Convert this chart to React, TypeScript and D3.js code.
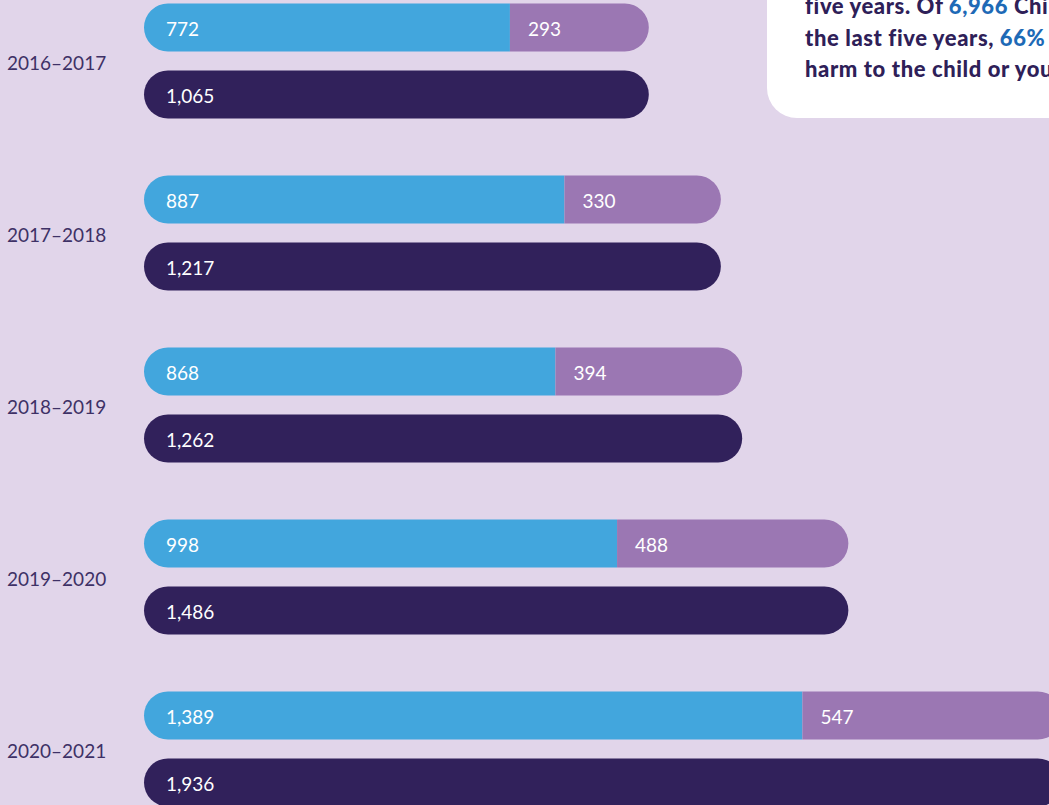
import React, { useEffect, useRef } from 'react';
import * as d3 from 'd3';

const years = ['2016–2017', '2017–2018', '2018–2019', '2019–2020', '2020–2021'];
const firstPart = [772, 887, 868, 998, 1389];
const secondPart = [293, 330, 394, 488, 547];
const totals = [1065, 1217, 1262, 1486, 1936];

const noteLines = [
  [{ t: 'five years. Of ', hi: false }, { t: '6,966', hi: true }, { t: ' Child Protection Orders made in', hi: false }],
  [{ t: 'the last five years, ', hi: false }, { t: '66%', hi: true }, { t: ' were for significant', hi: false }],
  [{ t: 'harm to the child or young person.', hi: false }],
];

const colors = {
  bg: '#e1d5ea',
  blue: '#42a6dd',
  purple: '#9b77b3',
  dark: '#31215b',
  label: '#3e3166',
  noteText: '#2e2058',
  noteNum: '#1e6ab6',
};

const W = 1049;
const H = 805;
const font = 'Lato, "Open Sans", sans-serif';

// pill shaped bar: rounded left and/or right end
function pill(x0: number, x1: number, y: number, h: number, left: boolean, right: boolean) {
  const r = h / 2;
  const p = d3.path();
  p.moveTo(x0 + (left ? r : 0), y);
  p.lineTo(x1 - (right ? r : 0), y);
  if (right) p.arc(x1 - r, y + r, r, -Math.PI / 2, Math.PI / 2);
  else { p.lineTo(x1, y + h); }
  p.lineTo(x0 + (left ? r : 0), y + h);
  if (left) p.arc(x0 + r, y + r, r, Math.PI / 2, Math.PI * 1.5);
  else p.lineTo(x0, y);
  p.closePath();
  return p.toString();
}

export default function App() {
  const ref = useRef<SVGSVGElement>(null);

  useEffect(() => {
    const svg = d3.select(ref.current);
    svg.selectAll('*').remove();

    svg.append('rect').attr('width', W).attr('height', H).attr('fill', colors.bg);

    const x = d3.scaleLinear().domain([0, 2000]).range([144, 144 + 948]);
    const y = d3.scaleBand().domain(years).range([3.5, 3.5 + 172 * years.length]).paddingInner(0);
    const barH = 48;
    const gap = 67;

    // note box, top right
    svg.append('rect')
      .attr('x', 767).attr('y', -60).attr('width', 400).attr('height', 178)
      .attr('rx', 30).attr('fill', '#ffffff');

    const note = svg.append('g');
    noteLines.forEach((line, i) => {
      const t = note.append('text')
        .attr('x', 805).attr('y', 14 + i * 31.5)
        .attr('font-family', font).attr('font-weight', 900).attr('font-size', 22)
        .attr('letter-spacing', 0.6)
        .attr('fill', colors.noteText);
      line.forEach((s) => {
        t.append('tspan').attr('fill', s.hi ? colors.noteNum : colors.noteText).text(s.t);
      });
    });

    const fmt = d3.format(',');
    const g = svg.append('g');
    years.forEach((yr, i) => {
      const y0 = y(yr) as number;
      const a = firstPart[i];
      const b = secondPart[i];
      const tot = totals[i];

      g.append('text')
        .attr('x', 7).attr('y', y0 + 66)
        .attr('font-family', font).attr('font-size', 19)
        .attr('fill', colors.label).text(yr);

      g.append('path').attr('d', pill(x(0), x(a), y0, barH, true, false)).attr('fill', colors.blue);
      g.append('path').attr('d', pill(x(a), x(a + b), y0, barH, false, true)).attr('fill', colors.purple);
      g.append('path').attr('d', pill(x(0), x(tot), y0 + gap, barH, true, true)).attr('fill', colors.dark);

      const lab = (xx: number, yy: number, v: number) =>
        g.append('text')
          .attr('x', xx).attr('y', yy + 32.5)
          .attr('font-family', font).attr('font-size', 19)
          .attr('fill', '#ffffff').text(fmt(v));
      lab(x(0) + 22, y0, a);
      lab(x(a) + 18, y0, b);
      lab(x(0) + 22, y0 + gap, tot);
    });
  }, []);

  return (
    <svg
      ref={ref}
      width={W}
      height={H}
      style={{ position: 'fixed', left: 0, top: 0, display: 'block' }}
    />
  );
}
